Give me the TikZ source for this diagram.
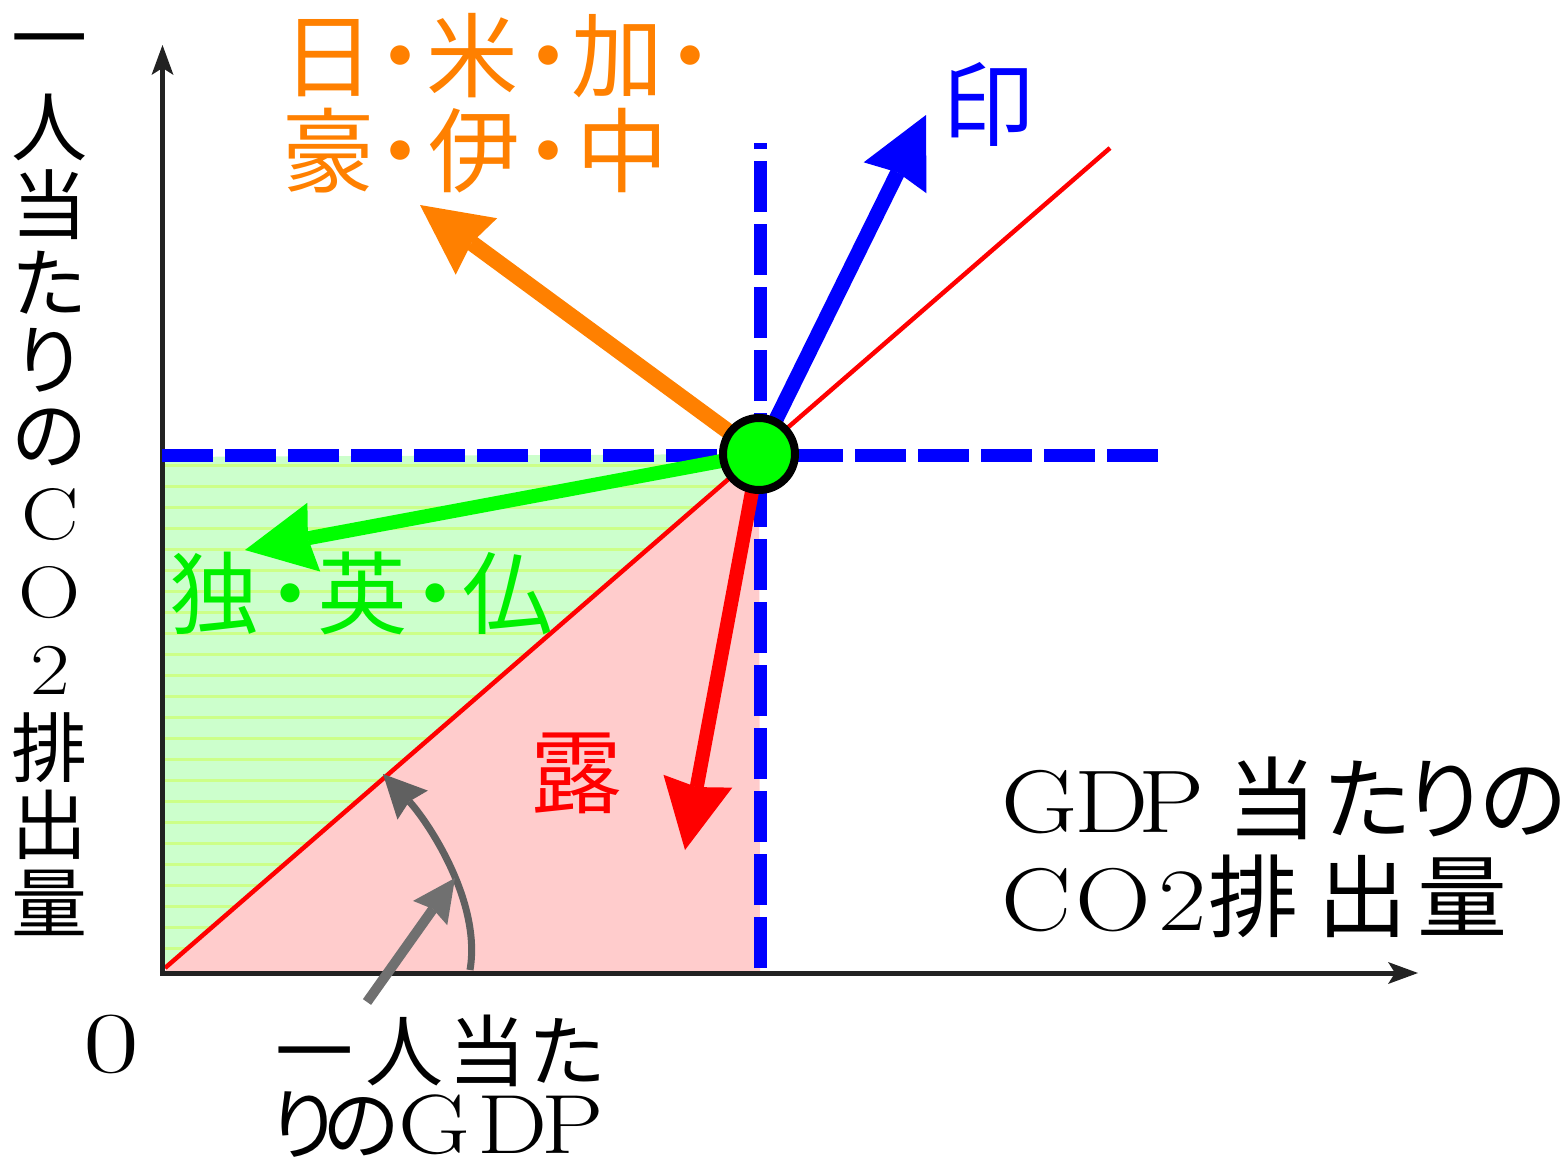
\documentclass[tikz,border=0pt]{standalone}
\usepackage{fontspec}
\XeTeXuseglyphmetrics=1
\newfontfamily\jp{Noto Sans CJK JP}
\newfontfamily\lmw{Latin Modern Roman}[FakeStretch=1.18]
\newfontfamily\lmz{Latin Modern Roman}[FakeStretch=1.4]
\usetikzlibrary{arrows.meta}
\newcommand\pc[2]{\makebox[0pt][c]{#1}\hspace*{#2pt}}
\newcommand\latR{\lmw\fontsize{89}{89}\selectfont}
\newcommand\latB{\lmw\fontsize{84}{84}\selectfont}
\definecolor{myorange}{RGB}{255,128,0}
\definecolor{mygreen}{RGB}{0,255,0}
\definecolor{txtgreen}{RGB}{0,240,0}
\definecolor{myblue}{RGB}{0,0,255}
\definecolor{myred}{RGB}{255,0,0}
\definecolor{pinkfill}{RGB}{255,204,204}
\definecolor{greenfill}{RGB}{204,255,204}
\definecolor{stripecol}{RGB}{204,255,136}
\definecolor{axisgray}{RGB}{34,34,34}
\definecolor{arcgray}{RGB}{96,96,96}
\definecolor{arrgray}{RGB}{112,112,112}
\tikzset{
  ch/.style={inner sep=0pt, outer sep=0pt, anchor=center},
  row/.style={inner sep=0pt, outer sep=0pt, anchor=base west},
  jpf/.style={font=\jp\fontsize{#1}{#1}\selectfont},
  lmf/.style={font=\lmw\fontsize{#1}{#1}\selectfont},
  axis/.style={draw=axisgray, line width=5pt, line join=miter,
    {Stealth[length=30pt,width=22pt,inset=7pt,line width=0pt]}-{Stealth[length=30pt,width=22pt,inset=7pt,line width=0pt]}},
  bluedash/.style={draw=myblue, line width=13pt, dash pattern=on 51pt off 12pt},
  bigarr/.style={line width=#1, -{Stealth[length=70pt,width=70pt,inset=6pt,line width=0pt]}},
  grayarr/.style={line width=#1, -{Stealth[length=43pt,width=42pt,inset=5pt,line width=0pt]}},
  stripe/.style={draw=stripecol, line width=3pt},
  redline/.style={draw=myred, line width=4.5pt},
  dot/.style={circle, draw=black, line width=8pt, fill=mygreen, minimum size=72pt, inner sep=0pt},
}
\begin{document}
\begin{tikzpicture}[x=1pt,y=-1pt]
\useasboundingbox (0,0) rectangle (1567,1167);
% key points
\coordinate (Pc) at (759,454);
\coordinate (O) at (162.5,973);
\coordinate (yTip) at (162.5,45);
\coordinate (xTip) at (1418,973);
\coordinate (rl0) at (165,968);
\coordinate (rl1) at (1110,148);
\coordinate (h0) at (162,455.5);
\coordinate (h1) at (1160,455.5);
\coordinate (v0) at (760,968);
\coordinate (v1) at (760,143);
\coordinate (orTip) at (420,205);
\coordinate (blTip) at (926,115);
\coordinate (grTip) at (245,550);
\coordinate (rdTip) at (685,850);
\coordinate (arcS) at (470,970);
\coordinate (arcT) at (383,774);
\coordinate (gS) at (367,1002);
\coordinate (gT) at (455,878);
% fills
\fill[greenfill] (165,457) -- (Pc) -- (165,968) -- cycle;
\begin{scope}
  \clip (165,459) -- (Pc) -- (165,968) -- cycle;
  \foreach \k in {0,...,24} \draw[stripe] (160,465+21*\k) -- (770,465+21*\k);
\end{scope}
\fill[pinkfill] (165,971) -- (Pc) -- (760,971) -- cycle;
% red diagonal
\draw[redline] (rl0) -- (rl1);
% axes
\draw[axis] (yTip) -- (O) -- (xTip);
% blue dashed lines
\draw[bluedash] (h0) -- (h1);
\draw[bluedash] (v0) -- (v1);
% gray arrows
\draw[grayarr=7pt, draw=arcgray] (arcS) .. controls (482,900) and (425,818) .. (arcT);
\draw[grayarr=10pt, draw=arrgray] (gS) -- (gT);
% colored arrows
\draw[bigarr=16pt, draw=myorange] (Pc) -- (orTip);
\draw[bigarr=15pt, draw=myblue] (Pc) -- (blTip);
\draw[bigarr=14pt, draw=mygreen] (Pc) -- (grTip);
\draw[bigarr=14pt, draw=myred] (Pc) -- (rdTip);
% center dot
\node[dot] (P) at (Pc) {};
% orange labels
\node[row, jpf=92, text=myorange] (or1) at (288,90)
  {\hspace*{40pt}\pc{日}{72}\pc{・}{72}\pc{米}{76}\pc{・}{69}\pc{加}{73}\pc{・}{0}\hspace*{40pt}};
\node[row, jpf=92, text=myorange] (or2) at (288,185)
  {\hspace*{40pt}\pc{豪}{72}\pc{・}{74}\pc{伊}{74}\pc{・}{74}\pc{中}{0}\hspace*{40pt}};
% green label
\node[row, jpf=90, text=txtgreen] (gr) at (174,627)
  {\hspace*{40pt}\pc{独}{76}\pc{・}{72}\pc{英}{73}\pc{・}{72}\pc{仏}{0}\hspace*{40pt}};
\node[ch, jpf=92, text=myblue] (lblIn) at (988,104) {印};
\node[ch, jpf=92, text=myred] (lblRo) at (576,773) {露};
% vertical axis label
\foreach \c [count=\i from 0] in {一,人,当,た,り,の}
  \node[ch, jpf=76] (va\i) at (50,50+77.5*\i) {\c};
\foreach \c [count=\i from 6] in {C,O,2}
  \node[ch, lmf=73] (vb\i) at (50,50+77.5*\i) {\c};
\foreach \c [count=\i from 9] in {排,出,量}
  \node[ch, jpf=76] (vc\i) at (50,50+77.5*\i) {\c};
% right label
\node[row, jpf=90] (rl1t) at (1000,832)
  {\hspace*{40pt}\pc{\latR G}{72}\pc{\latR D}{59}\pc{\latR P}{101}\pc{当}{96}\pc{た}{77}\pc{り}{78}\pc{の}{0}\hspace*{40pt}};
\node[row, jpf=90] (rl2t) at (997,930)
  {\hspace*{40pt}\pc{\latR C}{76}\pc{\latR O}{70}\pc{\latR 2}{70}\pc{排}{110}\pc{出}{100}\pc{量}{0}\hspace*{40pt}};
% bottom label
\node[row, jpf=78] (bl1) at (274,1080)
  {\hspace*{40pt}\pc{一}{91}\pc{人}{83}\pc{当}{80}\pc{た}{0}\hspace*{40pt}};
\node[row, jpf=78] (bl2) at (264,1153)
  {\hspace*{40pt}\pc{り}{57}\pc{の}{73}\pc{\latB G}{79}\pc{\latB D}{60}\pc{\latB P}{0}\hspace*{40pt}};
% origin
\node[ch, font=\lmz\fontsize{87}{87}\selectfont] (zero) at (111,1044) {0};
\end{tikzpicture}
\end{document}
